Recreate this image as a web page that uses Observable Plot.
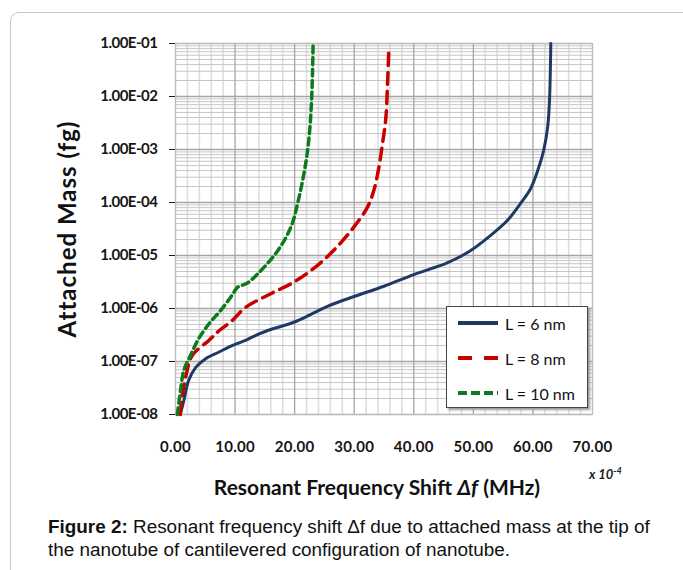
<!DOCTYPE html>
<html><head><meta charset="utf-8">
<script src="https://cdn.jsdelivr.net/npm/d3@7"></script>
<script src="https://cdn.jsdelivr.net/npm/@observablehq/plot@0.6"></script>
<style>
body{margin:0;background:#fff;}
#wrap{position:relative;width:683px;height:570px;overflow:hidden;font-family:Lato,"Open Sans",sans-serif;}
#frame{position:absolute;left:10px;top:12px;width:720px;height:620px;border:1px solid #c6c6c6;border-radius:9px;}
#chart{position:absolute;left:0;top:0;}
#chart g[aria-label="y-axis tick label"] text{font-size:15px;letter-spacing:-0.5px;}
#chart g[aria-label="x-axis tick label"] text{font-size:15px;letter-spacing:0.3px;}
#chart g.ytitle{letter-spacing:1px;}
#xtitle{position:absolute;left:0;width:754px;top:474px;text-align:center;font-weight:bold;font-size:21px;color:#111;}
#xmult{position:absolute;left:589px;top:465px;font-style:italic;font-weight:bold;font-size:13px;color:#222;}
#legend{position:absolute;left:446px;top:306px;width:140px;height:100px;background:#fff;border:1px solid #444;box-shadow:2px 2px 2px #9a9a9a;}
.lrow{position:absolute;left:10px;height:20px;display:flex;align-items:center;font-size:16px;color:#111;}
.lrow svg{margin-right:6px;}
#caption{position:absolute;left:48px;top:515px;font-family:"Liberation Sans",Arial,sans-serif;font-size:18.9px;line-height:23px;color:#111;white-space:nowrap;}
</style></head>
<body>
<div id="wrap">
  <div id="frame"></div>
  <div id="chart"></div>
  <div id="xtitle">Resonant Frequency Shift <i>Δf</i> (MHz)</div>
  <div id="xmult">x 10<sup style="font-size:9px">-4</sup></div>
  <div id="legend"></div>
  <div id="caption"><b>Figure 2:</b> Resonant frequency shift Δf due to attached mass at the tip of<br>the nanotube of cantilevered configuration of nanotube.</div>
</div>
<script>
// ---- data ----
const seriesNames = ["L = 6 nm", "L = 8 nm", "L = 10 nm"];
const seriesColors = ["#1f3864", "#c80000", "#0e7a1e"];

const shiftL6 = [0.8, 1.4, 2.2, 3.4, 5.0, 7.3, 9.5, 11.75, 13.4, 15.4, 20.3, 25.5, 30.1, 35.0, 40.0, 45.6, 49.5, 52.9, 55.7, 57.9, 59.6, 61.0, 61.8, 62.5, 62.8, 63.0];
const massL6  = [1e-8, 1.82e-8, 4.37e-8, 7.76e-8, 1.12e-7, 1.51e-7, 2.0e-7, 2.51e-7, 3.09e-7, 3.8e-7, 5.75e-7, 1.1e-6, 1.7e-6, 2.63e-6, 4.37e-6, 7.24e-6, 1.23e-5, 2.4e-5, 4.57e-5, 9.55e-5, 1.82e-4, 4.68e-4, 9.55e-4, 2.82e-3, 9.55e-3, 1e-1];

const shiftL8 = [0.8, 1.1, 1.7, 2.8, 5.6, 7.3, 9.5, 11.75, 16.0, 19.9, 23.8, 27.1, 29.9, 32.2, 33.3, 34.2, 34.7, 35.3, 35.6, 35.8];
const massL8  = [1e-8, 2.14e-8, 5.0e-8, 1.29e-7, 2.5e-7, 3.8e-7, 5.9e-7, 1.05e-6, 1.9e-6, 3.16e-6, 6.46e-6, 1.45e-5, 3.4e-5, 8.1e-5, 1.7e-4, 5.0e-4, 1.2e-3, 3.8e-3, 1.86e-2, 7.1e-2];

const shiftL10 = [0.3, 0.84, 1.4, 2.5, 3.9, 5.6, 7.55, 9.5, 10.4, 12.0, 13.7, 17.1, 19.4, 20.7, 21.8, 22.4, 22.8, 23.0, 23.1];
const massL10  = [1e-8, 2.8e-8, 6.8e-8, 1.29e-7, 2.7e-7, 5.1e-7, 9.1e-7, 1.78e-6, 2.5e-6, 3.0e-6, 4.4e-6, 1.2e-5, 3.5e-5, 1.2e-4, 5e-4, 1.6e-3, 6.8e-3, 2.8e-2, 1e-1];

const xTicks = [0, 10, 20, 30, 40, 50, 60, 70];
const xTickLabels = ["0.00", "10.00", "20.00", "30.00", "40.00", "50.00", "60.00", "70.00"];
const yTicks = [1e-8, 1e-7, 1e-6, 1e-5, 1e-4, 1e-3, 1e-2, 1e-1];
const yTickLabels = ["1.00E-08", "1.00E-07", "1.00E-06", "1.00E-05", "1.00E-04", "1.00E-03", "1.00E-02", "1.00E-01"];

// ---- build tables ----
const shifts = [shiftL6, shiftL8, shiftL10];
const masses = [massL6, massL8, massL10];
const rows = seriesNames.map((s, i) => shifts[i].map((x, j) => ({series: s, shift: x, mass: masses[i][j]})));

const xMinor = d3.range(0, 71, 2).filter(v => v % 10 !== 0);
const yMinor = [];
for (let k = -8; k <= -2; k++) for (let m = 2; m <= 9; m++) yMinor.push(m * Math.pow(10, k));

const dashes = [null, "12,7", "7,4.5"];
const widths = [3, 3.5, 3.5];

const chart = Plot.plot({
  width: 683, height: 500,
  marginLeft: 175, marginRight: 91, marginTop: 43, marginBottom: 86,
  style: {fontFamily: "Lato, 'Open Sans', sans-serif", background: "transparent", fontSize: "14px", fontWeight: "bold", color: "#161616"},
  x: {domain: [0, 70], ticks: xTicks, tickFormat: d => xTickLabels[xTicks.indexOf(d)], tickSize: 0, tickPadding: 27, label: null},
  y: {type: "log", domain: [1e-8, 1e-1], ticks: yTicks, tickFormat: d => yTickLabels[yTicks.indexOf(d)], tickSize: 6, tickPadding: 12, label: null},
  marks: [
    Plot.ruleX(xMinor, {stroke: "#dedede", strokeWidth: 1.6}),
    Plot.ruleY(yMinor, {stroke: "#c6c6c6", strokeWidth: 1}),
    Plot.ruleX(xTicks, {stroke: "#a6a6a6", strokeWidth: 1.3}),
    Plot.ruleY(yTicks, {stroke: "#a6a6a6", strokeWidth: 1.6}),
    Plot.frame({stroke: "#bdbdbd"}),
    ...rows.map((r, i) => Plot.line(r, {
      x: "shift", y: "mass", stroke: seriesColors[i], strokeWidth: widths[i],
      strokeDasharray: dashes[i] || undefined, curve: "catmull-rom"
    })),
    Plot.text(["Attached Mass (fg)"], {frameAnchor: "left", dx: -107, rotate: -90, fontSize: 24,
      fontWeight: "bold", fill: "#111", textAnchor: "middle", className: "ytitle"})
  ]
});
document.getElementById("chart").appendChild(chart);

// ---- legend ----
const leg = document.getElementById("legend");
seriesNames.forEach((s, i) => {
  const row = document.createElement("div");
  row.className = "lrow";
  row.style.top = (6 + i * 35) + "px";
  const dash = i === 1 ? "14,12" : (i === 2 ? "9,4" : "");
  row.innerHTML = `<svg width="42" height="10"><line x1="1" x2="41" y1="5" y2="5" stroke="${seriesColors[i]}" stroke-width="4" ${dash ? `stroke-dasharray="${dash}"` : ""}/></svg><span>${s}</span>`;
  leg.appendChild(row);
});
</script>
</body></html>
